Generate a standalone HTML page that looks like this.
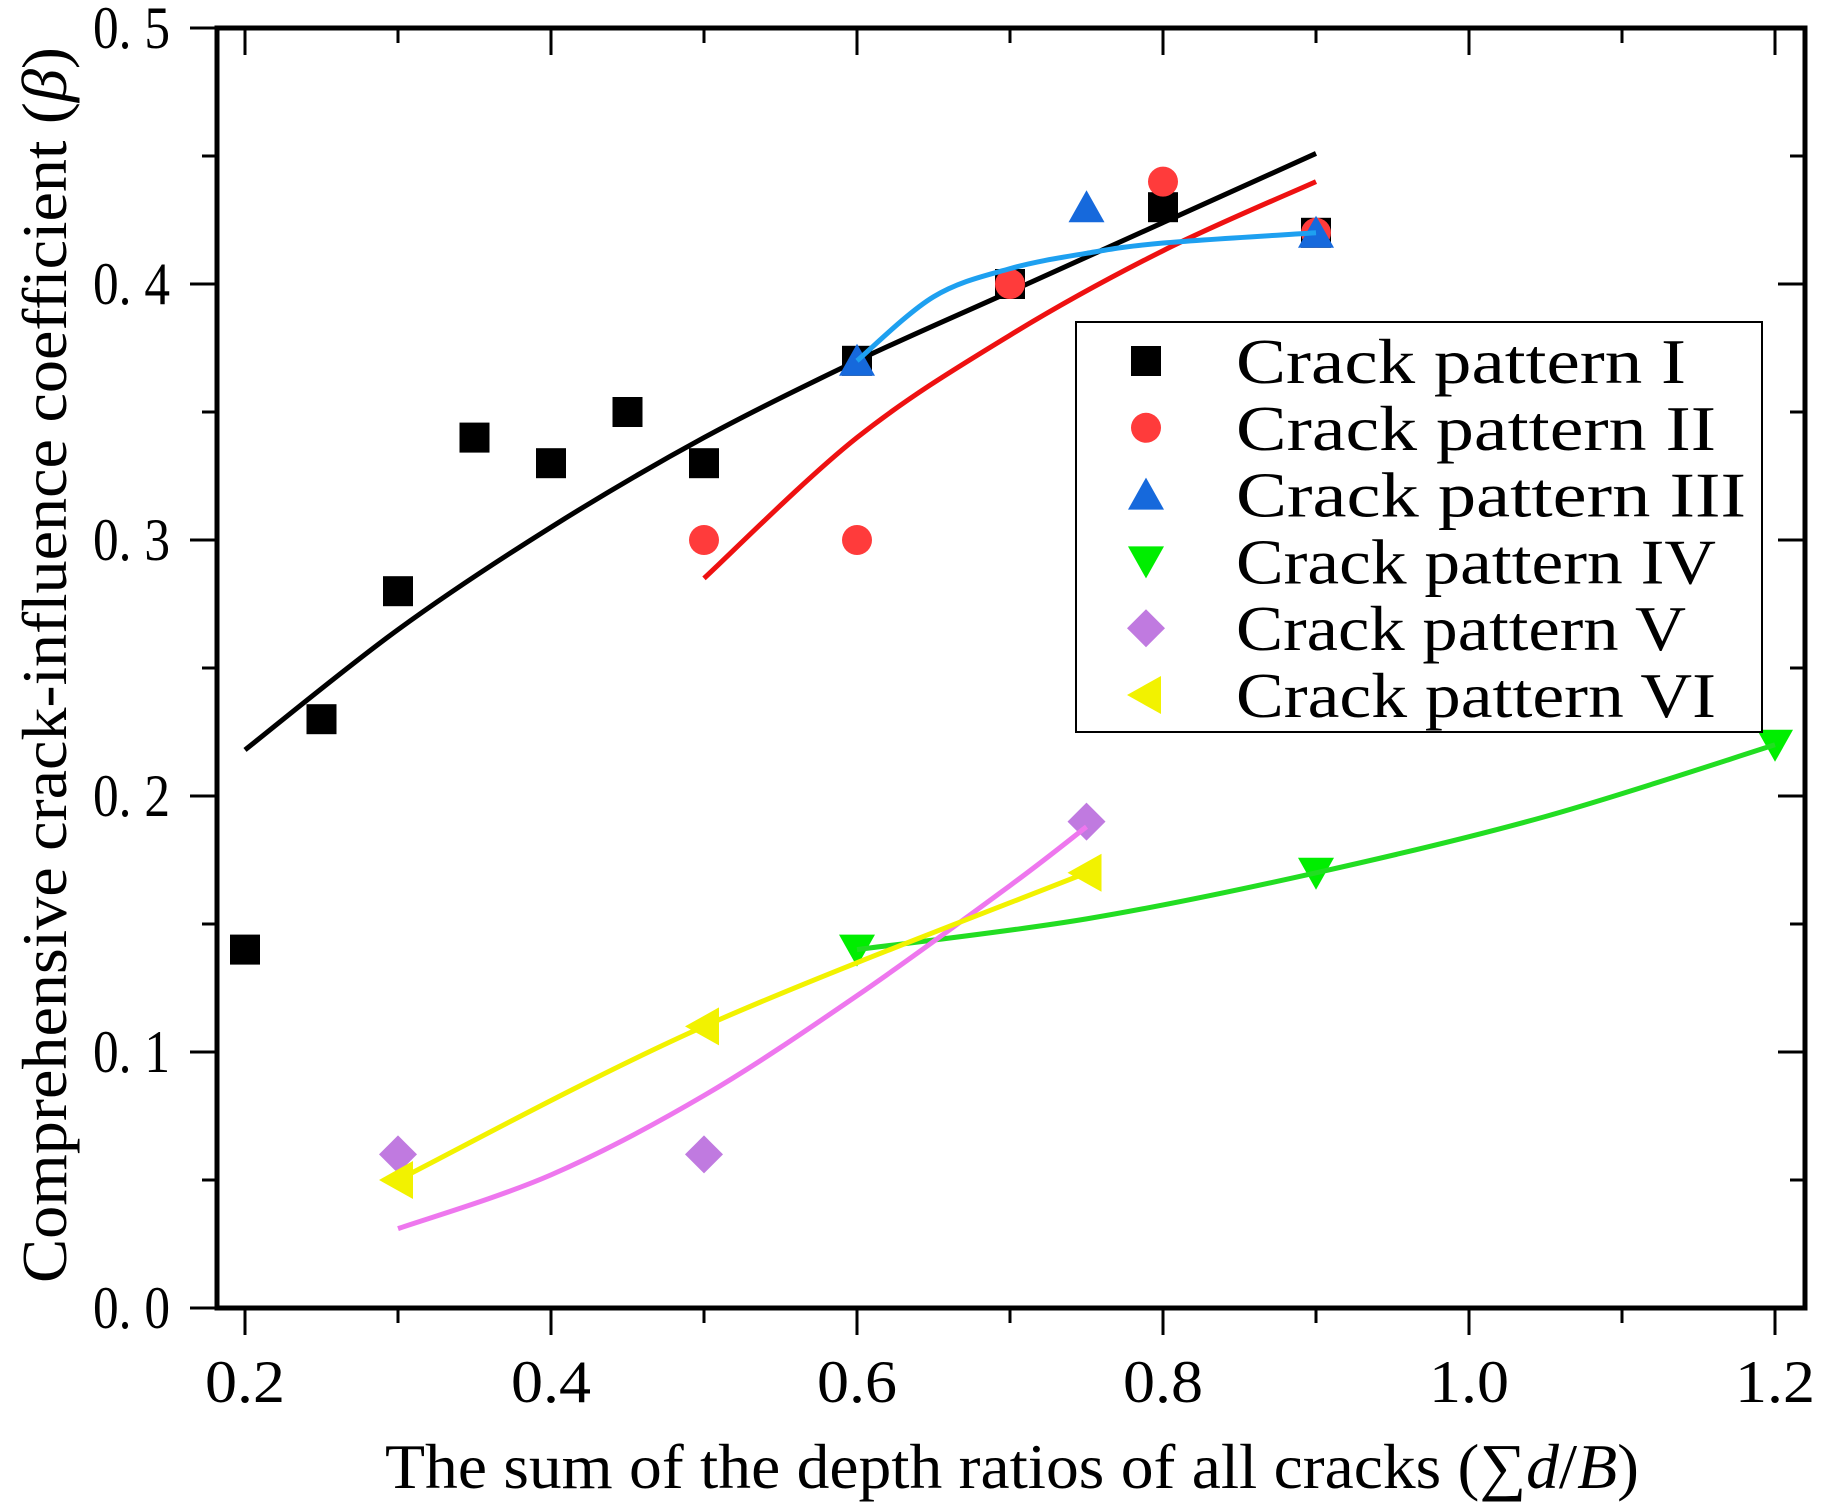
<!DOCTYPE html>
<html><head><meta charset="utf-8"><style>
html,body{margin:0;padding:0;background:#fff;}
svg{display:block;}
text{font-family:"Liberation Serif",serif;fill:#000;}
</style></head>
<body>
<svg id="chart" width="1825" height="1512" viewBox="0 0 1825 1512" xmlns="http://www.w3.org/2000/svg"></svg>
<script>
const xTicks=[0.2,0.4,0.6,0.8,1.0,1.2];
const xTickLabels=["0.2","0.4","0.6","0.8","1.0","1.2"];
const yTicks=[0,0.1,0.2,0.3,0.4,0.5];
const yTickLabels=["0. 0","0. 1","0. 2","0. 3","0. 4","0. 5"];
const names=["Crack pattern I","Crack pattern II","Crack pattern III","Crack pattern IV","Crack pattern V","Crack pattern VI"];
const xI=[0.2,0.25,0.3,0.35,0.4,0.45,0.5,0.6,0.7,0.8,0.9];
const yI=[0.14,0.23,0.28,0.34,0.33,0.35,0.33,0.37,0.40,0.43,0.42];
const xII=[0.5,0.6,0.7,0.8,0.9];
const yII=[0.30,0.30,0.40,0.44,0.42];
const xIII=[0.6,0.75,0.9];
const yIII=[0.37,0.43,0.42];
const xIV=[0.6,0.9,1.2];
const yIV=[0.14,0.17,0.22];
const xV=[0.3,0.5,0.75];
const yV=[0.06,0.06,0.19];
const xVI=[0.3,0.5,0.75];
const yVI=[0.05,0.11,0.17];
const fxI=[0.2,0.3,0.4,0.5,0.6,0.7,0.8,0.9];
const fyI=[0.218,0.265,0.305,0.34,0.37,0.397,0.424,0.451];
const fxII=[0.5,0.6,0.7,0.8,0.9];
const fyII=[0.285,0.34,0.38,0.413,0.44];
const fxIII=[0.6,0.65,0.7,0.75,0.8,0.9];
const fyIII=[0.37,0.395,0.406,0.412,0.416,0.42];
const fxIV=[0.6,0.75,0.9,1.05,1.2];
const fyIV=[0.14,0.152,0.17,0.192,0.22];
const fxV=[0.3,0.4,0.5,0.6,0.7,0.75];
const fyV=[0.031,0.052,0.083,0.122,0.165,0.188];
const fxVI=[0.3,0.5,0.75];
const fyVI=[0.05,0.11,0.17];

const NS="http://www.w3.org/2000/svg";
const svg=document.getElementById('chart');
const X=v=>245+(v-0.2)*1530;
const Y=v=>1308-v*2560;
function el(t,a,p){const e=document.createElementNS(NS,t);for(const k in a)e.setAttribute(k,a[k]);(p||svg).appendChild(e);return e;}

const frame=el('g',{});


el('rect',{x:217,y:28,width:1588,height:1280,fill:'none',stroke:'#000','stroke-width':5},frame);

const xa=el('g',{});


for(let v=0.2;v<=1.2001;v+=0.1){
  const major=Math.round(v*10)%2===0;
  el('line',{x1:X(v),x2:X(v),y1:1308,y2:1308+(major?27:15),stroke:'#000','stroke-width':3},xa);
  el('line',{x1:X(v),x2:X(v),y1:28,y2:28+(major?27:15),stroke:'#000','stroke-width':3},xa);
}
xTicks.forEach((v,i)=>{
  const t=el('text',{x:X(v)-40,y:1402,'font-size':60,textLength:80,lengthAdjust:'spacingAndGlyphs'},xa);
  t.textContent=xTickLabels[i];
  
  
});
const ya=el('g',{});


for(let v=0;v<=0.5001;v+=0.05){
  const major=Math.round(v*20)%2===0;
  el('line',{x1:217,x2:217-(major?27:15),y1:Y(v),y2:Y(v),stroke:'#000','stroke-width':3},ya);
  el('line',{x1:1805,x2:1805-(major?27:15),y1:Y(v),y2:Y(v),stroke:'#000','stroke-width':3},ya);
}
yTicks.forEach((v,i)=>{
  const t=el('text',{x:93,y:Y(v)+20,'font-size':60,textLength:77,lengthAdjust:'spacingAndGlyphs'},ya);
  t.textContent=yTickLabels[i];
  
  
});
const xt=el('text',{x:385,y:1488,'font-size':64,textLength:1254,lengthAdjust:'spacingAndGlyphs'});
xt.innerHTML='The sum of the depth ratios of all cracks (∑<tspan font-style="italic">d</tspan>/<tspan font-style="italic">B</tspan>)';


const yt=el('text',{x:0,y:0,'font-size':64,textLength:1236,lengthAdjust:'spacingAndGlyphs',transform:'translate(66,1283) rotate(-90)'});
yt.innerHTML='Comprehensive crack-influence coefficient (<tspan font-style="italic">β</tspan>)';



function smooth(xs,ys){
  const p=xs.map((x,i)=>[X(x),Y(ys[i])]);
  let d='M'+p[0][0]+','+p[0][1];
  for(let i=0;i<p.length-1;i++){
    const p0=p[i-1]||p[i],p1=p[i],p2=p[i+1],p3=p[i+2]||p2;
    const c1=[p1[0]+(p2[0]-p0[0])/6,p1[1]+(p2[1]-p0[1])/6];
    const c2=[p2[0]-(p3[0]-p1[0])/6,p2[1]-(p3[1]-p1[1])/6];
    d+=' C'+c1+' '+c2+' '+p2;
  }
  return d;
}
function marker(kind,cx,cy,color,parent){
  const s=15;
  if(kind==='sq')return el('rect',{x:cx-s,y:cy-s,width:2*s,height:2*s,fill:color},parent);
  if(kind==='ci')return el('circle',{cx:cx,cy:cy,r:s,fill:color},parent);
  if(kind==='up')return el('polygon',{points:`${cx},${cy-s-2} ${cx+s+3},${cy+s} ${cx-s-3},${cy+s}`,fill:color},parent);
  if(kind==='dn')return el('polygon',{points:`${cx},${cy+s+2} ${cx+s+3},${cy-s} ${cx-s-3},${cy-s}`,fill:color},parent);
  if(kind==='di')return el('polygon',{points:`${cx},${cy-s-4} ${cx+s+4},${cy} ${cx},${cy+s+4} ${cx-s-4},${cy}`,fill:color},parent);
  if(kind==='lf')return el('polygon',{points:`${cx-s-4},${cy} ${cx+s},${cy-s-4} ${cx+s},${cy+s+4}`,fill:color},parent);
}
const series=[
 {x:xI,y:yI,fx:fxI,fy:fyI,m:'sq',c:'#000',l:'#000',n:'pattern-1'},
 {x:xII,y:yII,fx:fxII,fy:fyII,m:'ci',c:'#ff3b3b',l:'#ee1111',n:'pattern-2'},
 {x:xIII,y:yIII,fx:fxIII,fy:fyIII,m:'up',c:'#1669dc',l:'#1ea0f0',n:'pattern-3'},
 {x:xIV,y:yIV,fx:fxIV,fy:fyIV,m:'dn',c:'#00ee00',l:'#22dd22',n:'pattern-4'},
 {x:xV,y:yV,fx:fxV,fy:fyV,m:'di',c:'#c07ae0',l:'#ee77ee',n:'pattern-5'},
 {x:xVI,y:yVI,fx:fxVI,fy:fyVI,m:'lf',c:'#f2f200',l:'#f2f200',n:'pattern-6'}
];
series.forEach(s=>{
  const g=el('g',{});
  
  
  s.x.forEach((x,i)=>{
    const m=marker(s.m,X(x),Y(s.y[i]),s.c,g);
    
    
  });
  const p=el('path',{d:smooth(s.fx,s.fy),fill:'none',stroke:s.l,'stroke-width':5},g);
  
  
});

const lg=el('g',{});


el('rect',{x:1076,y:322,width:686,height:410,fill:'#fff',stroke:'#000','stroke-width':2},lg);
names.forEach((n,i)=>{
  const cy=361+i*66.8;
  const e=el('g',{},lg);
  
  
  marker(series[i].m,1146,cy,series[i].c,e);
  const t=el('text',{x:1236,y:cy+22,'font-size':64,textLength:n.length*30,lengthAdjust:'spacingAndGlyphs'},e);
  t.textContent=n;
});
</script>
</body></html>
